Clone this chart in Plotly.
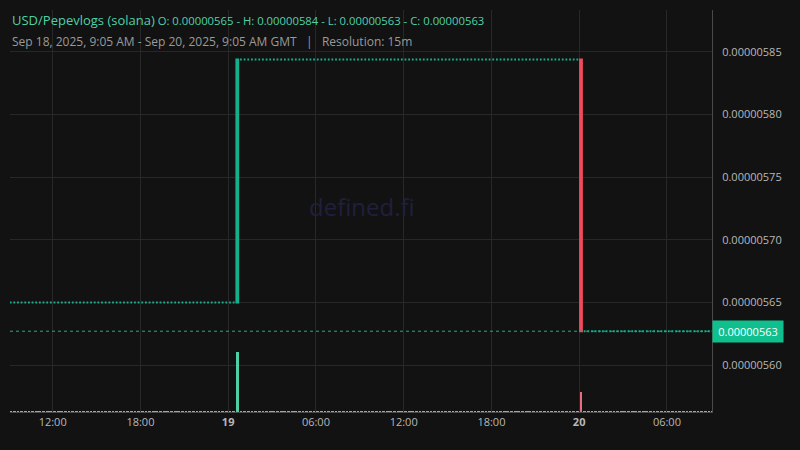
import pandas as pd
import plotly.graph_objects as go

# ---------------- data ----------------
# 15-minute candles, consecutive segments of identical candles
seg_counts = [62, 1, 93, 1, 36]
seg_open = [5.65e-6, 5.65e-6, 5.844e-6, 5.844e-6, 5.627e-6]
seg_high = [5.65e-6, 5.844e-6, 5.844e-6, 5.844e-6, 5.627e-6]
seg_low = [5.65e-6, 5.65e-6, 5.844e-6, 5.627e-6, 5.627e-6]
seg_close = [5.65e-6, 5.844e-6, 5.844e-6, 5.627e-6, 5.627e-6]
seg_volume = [2, 120, 2, 40, 2]

first_candle = "2025-09-18 09:00"
range_start = "2025-09-18 09:05"
range_end = "2025-09-20 09:05"

x_tick_vals = ["2025-09-18 12:00", "2025-09-18 18:00", "2025-09-19 00:00", "2025-09-19 06:00",
               "2025-09-19 12:00", "2025-09-19 18:00", "2025-09-20 00:00", "2025-09-20 06:00"]
x_tick_text = ["12:00", "18:00", "<b>19</b>", "06:00", "12:00", "18:00", "<b>20</b>", "06:00"]

title_pair = "USD/Pepevlogs (solana)"
header_ohlc = "O: 0.00000565 - H: 0.00000584 - L: 0.00000563 - C: 0.00000563"
header_sub = "Sep 18, 2025, 9:05 AM - Sep 20, 2025, 9:05 AM GMT &nbsp;&nbsp;|&nbsp;&nbsp; Resolution: 15m"

# ---------------- expand ----------------
def expand(vals):
    out = []
    for n, v in zip(seg_counts, vals):
        out += [v] * n
    return out

o, h, l, c, vol = map(expand, (seg_open, seg_high, seg_low, seg_close, seg_volume))
n = len(o)
starts = pd.date_range(first_candle, periods=n, freq="15min")
xs = starts + pd.Timedelta(minutes=7.5)

down = [ci < oi for oi, ci in zip(o, c)]

UP = "#14b08c"
DOWN = "#f04a5e"
UP_VOL = "#4fcfa6"
DOWN_VOL = "#e96b7e"
BG = "#121212"
GRID = "#282828"

def pick(vals, mask):
    return [v if m else None for v, m in zip(vals, mask)]

not_down = [not d for d in down]

fig = go.Figure()

# volume (secondary axis)
fig.add_trace(go.Bar(
    x=xs, y=vol, yaxis="y2",
    marker=dict(color=[DOWN_VOL if d else UP_VOL for d in down], line=dict(width=0)),
    width=15 * 60 * 1000 * 0.75, hoverinfo="skip", showlegend=False,
))

fig.add_trace(go.Candlestick(
    x=xs, open=pick(o, not_down), high=pick(h, not_down), low=pick(l, not_down), close=pick(c, not_down),
    increasing=dict(line=dict(color=UP, width=2), fillcolor=UP),
    decreasing=dict(line=dict(color=UP, width=2), fillcolor=UP),
    whiskerwidth=0, showlegend=False,
))
fig.add_trace(go.Candlestick(
    x=xs, open=pick(o, down), high=pick(h, down), low=pick(l, down), close=pick(c, down),
    increasing=dict(line=dict(color=DOWN, width=2), fillcolor=DOWN),
    decreasing=dict(line=dict(color=DOWN, width=2), fillcolor=DOWN),
    whiskerwidth=0, showlegend=False,
))

last_close = c[-1]
y_lo, y_hi = 5.5625e-6, 5.8835e-6

fig.update_layout(
    width=800, height=450,
    margin=dict(l=10, r=88, t=10, b=38),
    paper_bgcolor=BG, plot_bgcolor=BG,
    font=dict(family="Open Sans", color="#b8b8b8", size=11),
    showlegend=False,
    bargap=0,
    xaxis=dict(
        type="date", range=[range_start, range_end],
        rangeslider=dict(visible=False),
        tickvals=x_tick_vals, ticktext=x_tick_text,
        showgrid=True, gridcolor=GRID, gridwidth=1,
        showline=True, linecolor="#4a4a4a", linewidth=1,
        ticks="", tickfont=dict(size=11, color="#b8b8b8"),
        zeroline=False, fixedrange=True,
    ),
    yaxis=dict(
        side="right", range=[y_lo, y_hi],
        tick0=5.6e-6, dtick=5e-8, tickformat=".8f",
        showgrid=True, gridcolor=GRID, gridwidth=1,
        showline=True, linecolor="#4a4a4a", linewidth=1, mirror=False,
        ticks="", ticklabelstandoff=7,
        tickfont=dict(size=11, color="#b8b8b8"),
        zeroline=False,
    ),
    yaxis2=dict(
        overlaying="y", range=[0, 120 * 402 / 60], visible=False, fixedrange=True,
    ),
)

# header background box (hides grid behind the header)
fig.add_shape(type="rect", xref="paper", yref="paper",
              x0=-0.02, x1=(533 - 10) / 702, y0=1 - 44 / 402, y1=1.03,
              fillcolor=BG, line=dict(width=0), layer="between")

# last price line
fig.add_shape(type="line", xref="paper", yref="y", x0=0, x1=1, y0=last_close, y1=last_close,
              line=dict(color=UP, width=1, dash="dot"))

# last price label
fig.add_annotation(xref="paper", yref="y", x=1, y=last_close, xanchor="left", yanchor="middle",
                   text=f"{last_close:.8f}", showarrow=False,
                   font=dict(size=11, color="#ffffff", family="Open Sans"),
                   bgcolor="#10bf8e", borderpad=3, width=64, align="center")

# watermark
fig.add_annotation(xref="paper", yref="paper", x=(362 - 10) / 702, y=1 - (206 - 10) / 402,
                   text="defined.fi", showarrow=False,
                   font=dict(size=24, color="#1f203c", family="Open Sans"))

# header
fig.add_annotation(xref="paper", yref="paper", x=-10 / 702, y=1 - (20 - 10) / 402,
                   xanchor="left", yanchor="middle", showarrow=False, xshift=10,
                   text=f"<span style='font-size:13px'>{title_pair}</span> "
                        f"<span style='font-size:11.3px'>{header_ohlc}</span>",
                   font=dict(color="#4fd1a8", family="Open Sans"))
fig.add_annotation(xref="paper", yref="paper", x=-10 / 702, y=1 - (41 - 10) / 402,
                   xanchor="left", yanchor="middle", showarrow=False, xshift=10,
                   text=header_sub,
                   font=dict(size=12, color="#9a9a9a", family="Open Sans"))

fig.write_html("out.html", config={"displayModeBar": False},
               post_script="document.body.style.margin='0';")
